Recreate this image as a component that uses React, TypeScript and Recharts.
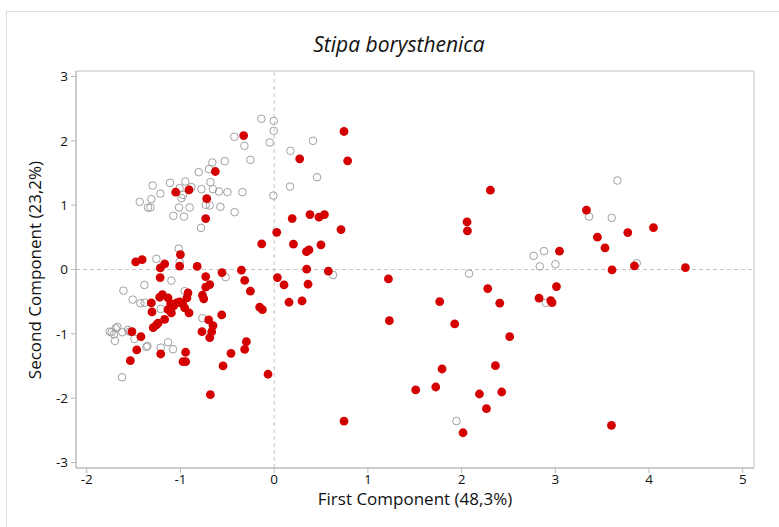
import React from "react"
import {
  ScatterChart,
  Scatter,
  XAxis,
  YAxis,
  ReferenceLine,
  ReferenceArea,
} from "recharts"

// PCA scores: [first component, second component]
const otherPoints: [number, number][] = [
  [-0.137, 2.342], [-0.005, 2.311], [-0.005, 2.156], [-0.048, 1.974], [-0.425, 2.062],
  [-0.318, 1.922], [-0.528, 1.684], [-0.254, 1.705], [-0.66, 1.663], [-0.696, 1.56],
  [-0.806, 1.513], [-0.339, 1.202], [-0.499, 1.202], [-0.589, 1.212], [-0.653, 1.249],
  [-0.681, 1.358], [-0.777, 1.249], [-0.948, 1.367], [-0.884, 1.28], [-1.009, 1.264],
  [-1.112, 1.347], [-1.297, 1.305], [-1.215, 1.18], [-1.311, 1.093], [-1.435, 1.051],
  [-1.347, 0.963], [-1.321, 0.963], [-0.99, 1.109], [-0.973, 1.16], [-1.016, 0.963],
  [-0.902, 0.963], [-0.731, 1.005], [-0.688, 0.994], [-0.574, 0.974], [-0.422, 0.891],
  [-1.076, 0.834], [-0.963, 0.823], [-0.781, 0.647],
  [0.414, 2.0], [0.173, 1.844], [0.457, 1.435], [0.169, 1.289], [-0.009, 1.149],
  [0.628, -0.084], [2.079, -0.064], [1.945, -2.355],
  [2.769, 0.212], [2.879, 0.285], [2.834, 0.048], [3.001, 0.082], [2.898, -0.519],
  [3.36, 0.823], [3.602, 0.802], [3.663, 1.383], [3.869, 0.098],
  [-1.019, 0.325], [-1.257, 0.165], [-1.009, 0.118], [-1.097, -0.173], [-0.518, -0.12],
  [-1.385, -0.24], [-1.609, -0.328], [-1.51, -0.468], [-1.428, -0.524], [-1.382, -0.515],
  [-0.955, -0.337], [-1.211, -0.613], [-0.766, -0.757], [-1.734, -0.975], [-1.692, -0.913],
  [-1.673, -0.893], [-1.71, -1.006], [-1.699, -1.11], [-1.756, -0.966], [-1.62, -0.975],
  [-1.56, -0.939], [-1.542, -0.966], [-1.492, -1.079], [-1.353, -1.188], [-1.364, -1.204],
  [-1.211, -1.215], [-1.133, -1.131], [-1.08, -1.239], [-1.624, -1.675],
]

const stipaPoints: [number, number][] = [
  [-1.478, 0.118], [-1.409, 0.154], [-1.215, 0.025], [-1.169, 0.087], [-1.217, -0.126],
  [-1.001, 0.232], [-1.009, 0.051], [-0.822, 0.048], [-0.731, -0.11], [-0.688, -0.235],
  [-0.731, -0.275], [-0.557, -0.048], [-0.35, -0.011], [-0.315, -0.17], [-0.254, -0.337],
  [-0.133, 0.398], [-0.155, -0.586], [-0.126, -0.624], [-0.766, -0.4], [-0.752, -0.456],
  [-0.92, -0.364], [-0.931, -0.442], [-1.222, -0.431], [-1.193, -0.39], [-1.133, -0.442],
  [-1.311, -0.519], [-1.304, -0.659], [-1.105, -0.535], [-1.073, -0.566], [-1.041, -0.519],
  [-1.009, -0.504], [-0.977, -0.535], [-0.955, -0.597], [-1.133, -0.624], [-1.097, -0.675],
  [-0.909, -0.675], [-0.56, -0.706], [-0.699, -0.784], [-1.169, -0.776], [-1.291, -0.904],
  [-1.257, -0.862], [-1.24, -0.835], [-1.518, -0.966], [-1.422, -1.044], [-1.467, -1.25],
  [-1.535, -1.417], [-1.211, -1.313], [-0.973, -1.432], [-0.945, -1.432], [-0.945, -1.286],
  [-0.771, -0.966], [-0.653, -0.872], [-0.667, -0.966], [-0.688, -1.059], [-0.297, -1.121],
  [-0.315, -1.24], [-0.461, -1.302], [-0.546, -1.499], [-0.681, -1.946], [-0.066, -1.628],
  [-0.326, 2.082], [-0.628, 1.523], [-0.909, 1.238], [-1.051, 1.202], [-0.72, 1.103],
  [-0.731, 0.792],
  [0.027, 0.577], [0.192, 0.792], [0.272, 1.72], [0.382, 0.854], [0.478, 0.813],
  [0.536, 0.854], [0.713, 0.621], [0.745, 2.145], [0.784, 1.689], [0.205, 0.393],
  [0.344, 0.278], [0.371, 0.305], [0.499, 0.383], [0.034, -0.126], [0.105, -0.24],
  [0.158, -0.509], [0.297, -0.488], [0.347, 0.005], [0.361, -0.229], [0.578, -0.026],
  [0.745, -2.355], [2.307, 1.233], [2.058, 0.74], [2.062, 0.6], [1.219, -0.146],
  [1.229, -0.795], [1.766, -0.499], [1.926, -0.846], [2.279, -0.297], [2.407, -0.524],
  [2.513, -1.044], [2.361, -1.495], [1.791, -1.546], [1.51, -1.872], [1.724, -1.826],
  [2.19, -1.935], [2.428, -1.904], [2.265, -2.163], [2.015, -2.537],
  [2.826, -0.446], [2.951, -0.484], [2.965, -0.515], [3.012, -0.266], [3.044, 0.285],
  [3.332, 0.922], [3.449, 0.502], [3.53, 0.336], [3.773, 0.574], [4.047, 0.652],
  [3.605, -0.006], [3.844, 0.056], [4.388, 0.03], [3.599, -2.421],
]

const xTicks = [-2, -1, 0, 1, 2, 3, 4, 5]
const yTicks = [-3, -2, -1, 0, 1, 2, 3]

const FONT = "'Open Sans', 'Noto Sans', sans-serif"

const toRows = (pts: [number, number][]) => pts.map(([x, y]) => ({ x, y }))

const OpenDot = (props: any) => (
  <circle cx={props.cx} cy={props.cy} r={3.8} fill="none" stroke="#a0a0a0" strokeWidth={1} />
)

const RedDot = (props: any) => <circle cx={props.cx} cy={props.cy} r={4.4} fill="#d40000" />

export default function App() {
  const tick = { fill: "#111", fontSize: 13.5, fontFamily: FONT }
  return (
    <div
      style={{
        position: "absolute",
        left: 0,
        top: 0,
        width: 779,
        height: 527,
        overflow: "hidden",
        background: "#fff",
        fontFamily: FONT,
      }}
    >
      <div
        style={{
          position: "absolute",
          left: 6,
          top: 11,
          width: 900,
          height: 700,
          border: "1px solid #dedede",
        }}
      />
      <div
        style={{
          position: "absolute",
          left: 249,
          top: 30,
          width: 300,
          textAlign: "center",
          fontSize: 21,
          fontStyle: "italic",
          color: "#111",
        }}
      >
        Stipa borysthenica
      </div>
      <ScatterChart width={779} height={527} margin={{ top: 71, right: 25, bottom: 29, left: 36 }}>
        <ReferenceArea
          x1={-2.115}
          x2={5.12}
          y1={-3.085}
          y2={3.085}
          fill="none"
          stroke="#c2c2c2"
          strokeWidth={1}
        />
        <ReferenceLine x={0} stroke="#c4c4c4" strokeDasharray="4 3" />
        <ReferenceLine y={0} stroke="#c4c4c4" strokeDasharray="4 3" />
        <XAxis
          type="number"
          dataKey="x"
          domain={[-2.115, 5.12]}
          ticks={xTicks}
          allowDataOverflow
          height={30}
          tickSize={5}
          tickMargin={1}
          tick={tick}
          stroke="#b8b8b8"
        />
        <YAxis
          type="number"
          dataKey="y"
          domain={[-3.085, 3.085]}
          ticks={yTicks}
          allowDataOverflow
          width={40}
          tickSize={5}
          tickMargin={3}
          tick={tick}
          stroke="#b8b8b8"
        />
        <Scatter data={toRows(otherPoints)} shape={OpenDot} isAnimationActive={false} />
        <Scatter data={toRows(stipaPoints)} shape={RedDot} isAnimationActive={false} />
      </ScatterChart>
      <div
        style={{
          position: "absolute",
          left: 265,
          top: 492,
          width: 300,
          height: 14,
          lineHeight: "14px",
          textAlign: "center",
          fontSize: 17,
          color: "#111",
        }}
      >
        First Component (48,3%)
      </div>
      <div
        style={{
          position: "absolute",
          left: 35 - 150,
          top: 270 - 12,
          width: 300,
          height: 24,
          textAlign: "center",
          fontSize: 17,
          color: "#111",
          transform: "rotate(-90deg)",
          transformOrigin: "50% 50%",
        }}
      >
        Second Component (23,2%)
      </div>
    </div>
  )
}
